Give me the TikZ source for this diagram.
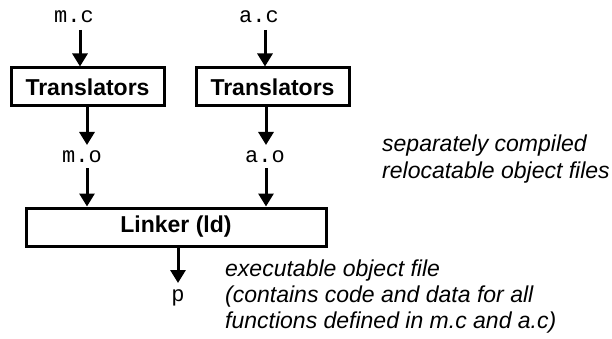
\documentclass[tikz,border=0pt]{standalone}
\usepackage{fontspec}
\setmainfont{Liberation Sans}
\newfontfamily\monof{Liberation Mono}
\usetikzlibrary{arrows.meta}
\begin{document}
\begin{tikzpicture}[x=1pt,y=-1pt,
  box/.style={draw,line width=3pt,minimum width=#1,minimum height=38pt,inner sep=0,font=\fontsize{23}{26}\selectfont\bfseries},
  code/.style={inner sep=0,anchor=base,font=\fontsize{22}{26}\selectfont\monof},
  note/.style={inner sep=0,anchor=base west,align=left,font=\fontsize{23}{26}\selectfont\itshape},
  arr/.style={line width=3pt,-{Triangle[length=13pt,width=15pt]}}]
\useasboundingbox (0,0) rectangle (612,339);
\node[code] (mc) at (74,23) {m.c};
\node[code] (ac) at (259,23) {a.c};
\node[box=153pt] (t1) at (87.5,87) {Translators};
\node[box=153pt] (t2) at (272.5,87) {Translators};
\node[code] (mo) at (82,163) {m.o};
\node[code] (ao) at (265,163) {a.o};
\node[box=300pt] (ld) at (176,227) {Linker (ld)};
\node[code] (p) at (178,301) {p};
\node[note] (sep) at (382,178) {separately compiled\\relocatable object files};
\node[note] (exe) at (225,328) {executable object file\\(contains code and data for all\\functions defined in m.c and a.c)};
\draw[arr] ([xshift=6pt,yshift=-7pt]mc.base) -- ([xshift=6pt]mc.base |- t1.north);
\draw[arr] ([xshift=6pt,yshift=-7pt]ac.base) -- ([xshift=6pt]ac.base |- t2.north);
\draw[arr] ([xshift=5pt]mo.base |- t1.south) -- ([xshift=5pt,yshift=18pt]mo.base);
\draw[arr] ([xshift=1pt]ao.base |- t2.south) -- ([xshift=1pt,yshift=18pt]ao.base);
\draw[arr] ([xshift=5pt,yshift=-5pt]mo.base) -- ([xshift=5pt]mo.base |- ld.north);
\draw[arr] ([xshift=1pt,yshift=-5pt]ao.base) -- ([xshift=1pt]ao.base |- ld.north);
\draw[arr] (p.base |- ld.south) -- ([yshift=18pt]p.base);
\end{tikzpicture}
\end{document}
